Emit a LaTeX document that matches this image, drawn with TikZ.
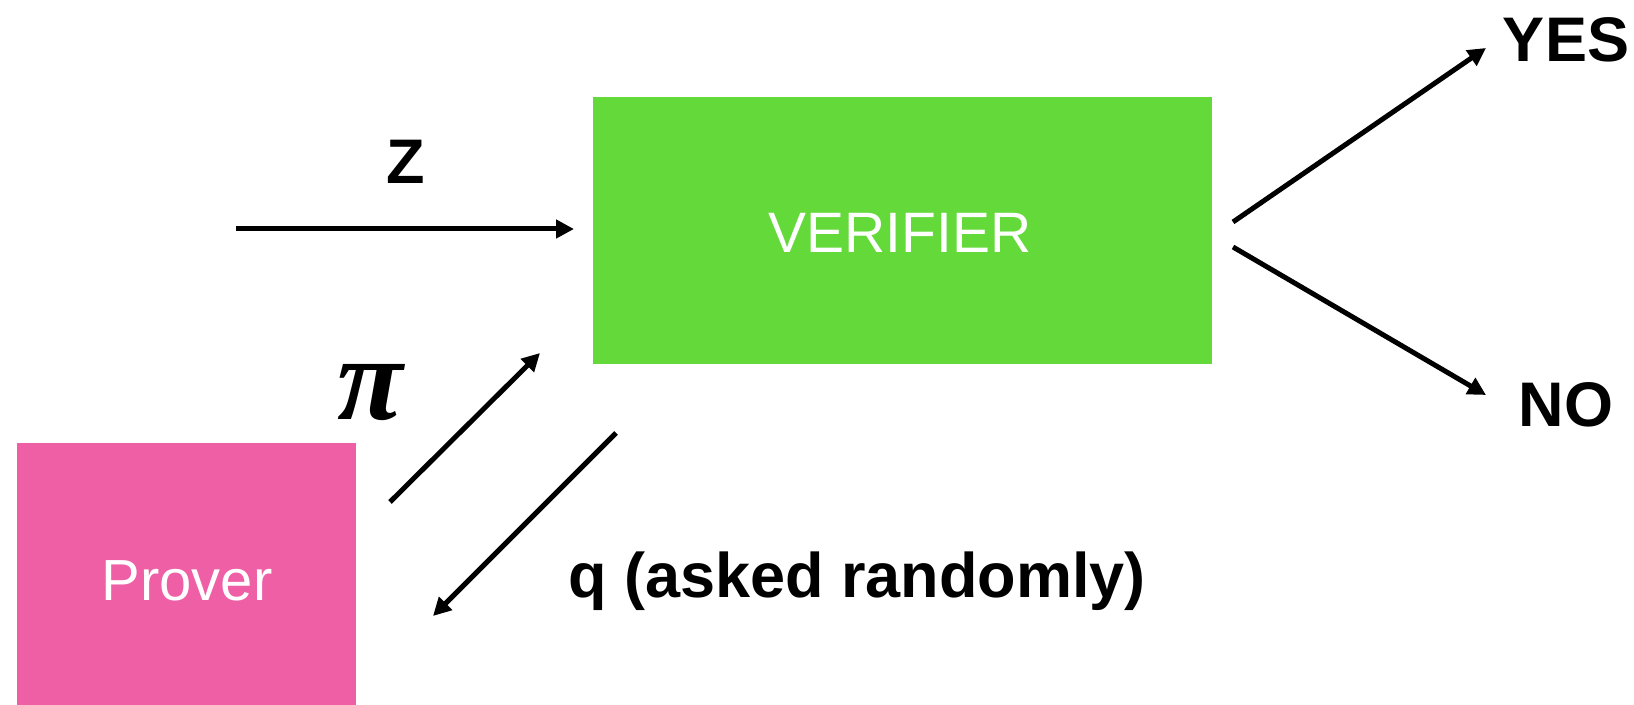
\documentclass[tikz,border=0pt]{standalone}
\usepackage{fontspec}
\setmainfont{Liberation Sans}
\newfontfamily\pifont{Liberation Serif}
\usetikzlibrary{arrows.meta}
\definecolor{verigreen}{RGB}{99,217,58}
\definecolor{proverpink}{RGB}{238,95,165}
\tikzset{
  box/.style={draw=none, inner sep=0pt, outer sep=0pt},
  boxtext/.style={anchor=base, text=white},
  lbl/.style={anchor=base, font=\fontsize{31.5}{36}\selectfont\bfseries},
  link/.style={line width=2.5pt, -{Triangle[length=9pt,width=9pt]}},
}
\begin{document}
\begin{tikzpicture}[x=0.5pt, y=-0.5pt]
  \useasboundingbox (0,0) rectangle (1634,705);
  % boxes
  \path[fill=verigreen] (593,97) rectangle (1212,364);
  \node[box, minimum width=309.5pt, minimum height=133.5pt] (verifier) at (902.5,230.5) {};
  \node[boxtext, font=\fontsize{28.5}{34}\selectfont] (vtext) at (900,253) {VERIFIER};
  \path[fill=proverpink] (17,443) rectangle (356,705);
  \node[box, minimum width=169.5pt, minimum height=131pt] (prover) at (186.5,574) {};
  \node[boxtext, font=\fontsize{29}{34}\selectfont] (ptext) at (187,601) {Prover};
  % labels
  \node[lbl] (zlbl) at (406,184) {Z};
  \node[anchor=base, font=\fontsize{60}{62}\selectfont\pifont\itshape\bfseries] (pilbl) at (370,420) {π};
  \node[lbl] (qlbl) at (857,597) {q (asked randomly)};
  \node[lbl] (yes) at (1566,62) {YES};
  \node[lbl] (no) at (1566,427) {NO};
  % arrow end points
  \coordinate (zin) at (236,229);
  \coordinate (zend) at (574,229);
  \coordinate (pistart) at (390,502);
  \coordinate (piend) at (540,353);
  \coordinate (qstart) at (616,433);
  \coordinate (qend) at (433,616);
  \coordinate (ystart) at (1233,222);
  \coordinate (yend) at (1486,48);
  \coordinate (nstart) at (1233,247);
  \coordinate (nend) at (1486,395);
  % connectors
  \draw[link] (zin) -- (zend);
  \draw[link] (pistart) -- (piend);
  \draw[link] (qstart) -- (qend);
  \draw[link] (ystart) -- (yend);
  \draw[link] (nstart) -- (nend);
\end{tikzpicture}
\end{document}
